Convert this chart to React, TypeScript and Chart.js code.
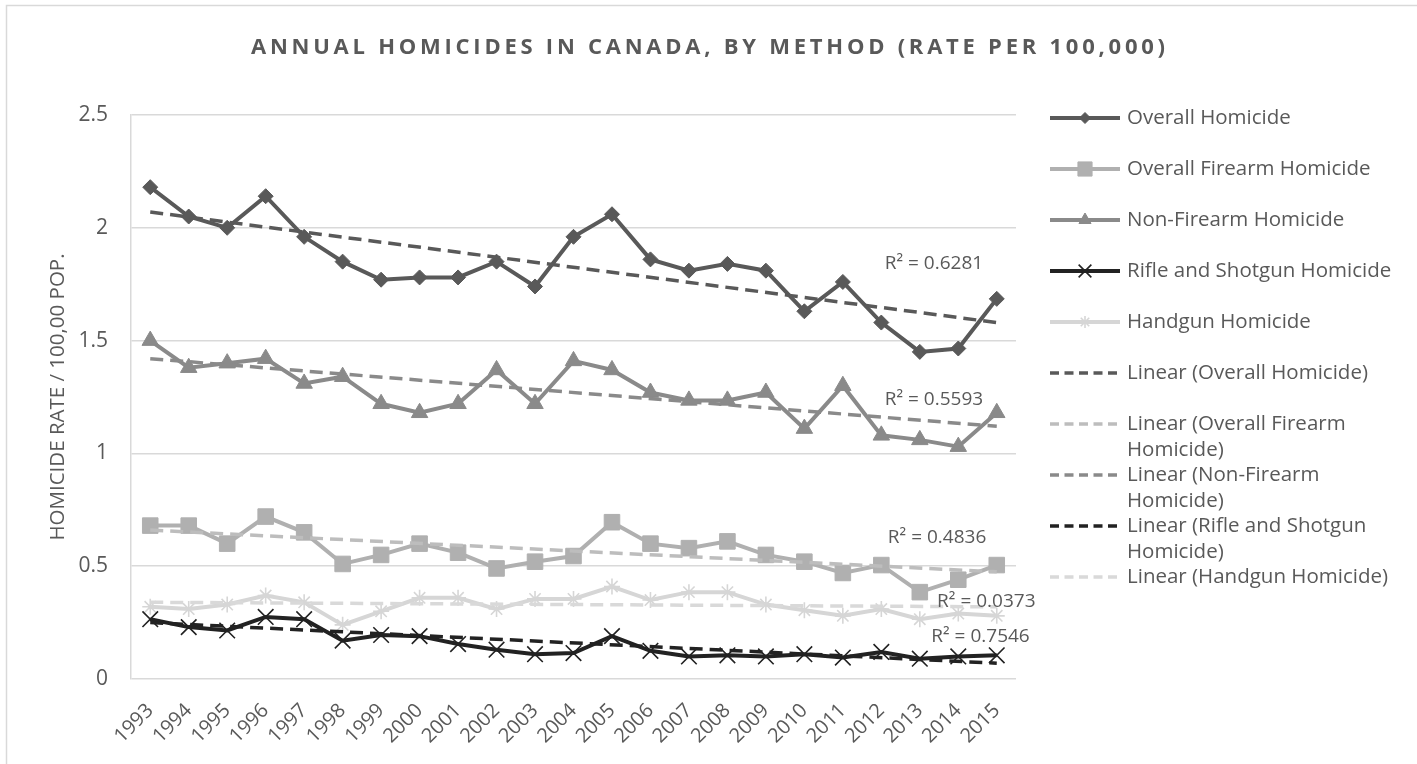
import React, { useEffect, useRef } from 'react';
import { Chart, registerables } from 'chart.js';
import { drawPoint } from 'chart.js/helpers';

Chart.register(...registerables);

const years = ['1993', '1994', '1995', '1996', '1997', '1998', '1999', '2000', '2001', '2002', '2003', '2004', '2005', '2006', '2007', '2008', '2009', '2010', '2011', '2012', '2013', '2014', '2015'];

const overallHomicide = [2.18, 2.05, 2.0, 2.14, 1.96, 1.85, 1.77, 1.78, 1.78, 1.85, 1.74, 1.96, 2.06, 1.86, 1.81, 1.84, 1.81, 1.63, 1.76, 1.58, 1.45, 1.465, 1.685];
const firearmHomicide = [0.68, 0.68, 0.6, 0.72, 0.65, 0.51, 0.55, 0.6, 0.56, 0.49, 0.52, 0.545, 0.695, 0.6, 0.58, 0.61, 0.55, 0.52, 0.47, 0.505, 0.385, 0.44, 0.505];
const nonFirearmHomicide = [1.5, 1.38, 1.4, 1.42, 1.31, 1.34, 1.22, 1.18, 1.22, 1.37, 1.22, 1.41, 1.37, 1.27, 1.235, 1.235, 1.27, 1.11, 1.3, 1.08, 1.06, 1.03, 1.18];
const rifleShotgunHomicide = [0.265, 0.23, 0.215, 0.275, 0.265, 0.17, 0.195, 0.19, 0.155, 0.13, 0.11, 0.115, 0.19, 0.125, 0.1, 0.105, 0.1, 0.11, 0.095, 0.12, 0.09, 0.1, 0.105];
const handgunHomicide = [0.32, 0.31, 0.33, 0.37, 0.34, 0.24, 0.3, 0.36, 0.36, 0.31, 0.355, 0.355, 0.41, 0.35, 0.385, 0.385, 0.33, 0.305, 0.28, 0.31, 0.265, 0.29, 0.28];

// Linear trendline endpoints (1993, 2015)
const trendStart = [2.07, 0.66, 1.42, 0.25, 0.34];
const trendEnd = [1.58, 0.475, 1.12, 0.07, 0.32];

const seriesNames = ['Overall Homicide', 'Overall Firearm Homicide', 'Non-Firearm Homicide', 'Rifle and Shotgun Homicide', 'Handgun Homicide'];
const rSquared = ['0.6281', '0.4836', '0.5593', '0.7546', '0.0373'];

const yTicks = [0, 0.5, 1, 1.5, 2, 2.5];

const TITLE = 'ANNUAL HOMICIDES IN CANADA, BY METHOD (RATE PER 100,000)';
const Y_TITLE = 'HOMICIDE RATE / 100,00 POP.';

const FONT = "'Open Sans', sans-serif";
const TEXT = '#595959';

const colors = ['#595959', '#b0b0b0', '#8a8a8a', '#222222', '#d6d6d6'];
const trendColors = ['#595959', '#bdbdbd', '#8a8a8a', '#222222', '#d9d9d9'];
const pointStyles = ['rectRot', 'rect', 'triangle', 'crossRot', 'star'];
const pointRadii = [7.5, 11, 9.5, 11, 8];
const legendRadii = [5.5, 10, 7, 9, 6];

// R² label anchors: [x category index, y value], in the order of rSquared
const r2Anchors = [
  [19.09, 1.84],
  [19.17, 0.628],
  [19.09, 1.239],
  [20.3, 0.186],
  [20.45, 0.341],
];

const seriesData = [overallHomicide, firearmHomicide, nonFirearmHomicide, rifleShotgunHomicide, handgunHomicide];

export default function App() {
  const ref = useRef<HTMLCanvasElement>(null);

  useEffect(() => {
    document.body.style.margin = '0';
    const canvas = ref.current;
    if (!canvas) return;

    const datasets: any[] = [];
    seriesData.forEach((d, i) => {
      const filled = pointStyles[i] !== 'crossRot' && pointStyles[i] !== 'star';
      datasets.push({
        label: seriesNames[i],
        data: d,
        borderColor: colors[i],
        backgroundColor: colors[i],
        borderWidth: 4,
        pointStyle: pointStyles[i],
        pointRadius: pointRadii[i],
        pointBorderWidth: filled ? 1 : 1.6,
        pointBorderColor: colors[i],
        pointBackgroundColor: colors[i],
        tension: 0,
        order: 2,
        _legendRadius: legendRadii[i],
      });
    });
    seriesData.forEach((d, i) => {
      const arr: (number | null)[] = d.map(() => null);
      arr[0] = trendStart[i];
      arr[arr.length - 1] = trendEnd[i];
      datasets.push({
        label: 'Linear (' + seriesNames[i] + ')',
        data: arr,
        spanGaps: true,
        borderColor: trendColors[i],
        backgroundColor: trendColors[i],
        borderWidth: 3.5,
        borderDash: [13, 7],
        pointRadius: 0,
        tension: 0,
        order: 1,
        _trend: true,
      });
    });

    const decor = {
      id: 'decor',
      afterDraw(chart: any) {
        const ctx = chart.ctx as CanvasRenderingContext2D;
        const xs = chart.scales.x;
        const ys = chart.scales.y;
        ctx.save();
        // outer border
        ctx.strokeStyle = '#d9d9d9';
        ctx.lineWidth = 1.5;
        ctx.strokeRect(6.5, 5.5, 1420, 770);

        // title
        ctx.fillStyle = TEXT;
        ctx.font = `bold 22px ${FONT}`;
        ctx.textBaseline = 'alphabetic';
        ctx.textAlign = 'left';
        (ctx as any).letterSpacing = '0px';
        const w0 = ctx.measureText(TITLE).width;
        const spacing = (914 - w0) / (TITLE.length - 1);
        (ctx as any).letterSpacing = spacing + 'px';
        ctx.fillText(TITLE, 708 - 914 / 2, 54);
        (ctx as any).letterSpacing = '0px';

        // y axis title
        ctx.save();
        ctx.translate(58, (chart.chartArea.top + chart.chartArea.bottom) / 2);
        ctx.rotate(-Math.PI / 2);
        ctx.font = `20.5px ${FONT}`;
        ctx.textAlign = 'center';
        ctx.textBaseline = 'middle';
        ctx.fillText(Y_TITLE, 0, 0);
        ctx.restore();

        // R² labels
        ctx.font = `19px ${FONT}`;
        ctx.textAlign = 'left';
        ctx.textBaseline = 'middle';
        ctx.fillStyle = TEXT;
        rSquared.forEach((r, i) => {
          const px = xs.getPixelForValue(r2Anchors[i][0]);
          const py = ys.getPixelForValue(r2Anchors[i][1]);
          ctx.fillText('R² = ' + r, px, py);
        });

        // legend
        const lx0 = 1050;
        const lx1 = 1120;
        const tx = 1127;
        const rowTop = 118;
        const rowStep = 51;
        const lineGap = 26;
        ctx.font = `20.5px ${FONT}`;
        chart.data.datasets.forEach((ds: any, i: number) => {
          const y = rowTop + rowStep * i;
          ctx.save();
          ctx.strokeStyle = ds.borderColor;
          ctx.lineWidth = ds._trend ? 3.5 : 4;
          ctx.setLineDash(ds._trend ? [9, 5.5] : []);
          ctx.beginPath();
          ctx.moveTo(lx0, y);
          ctx.lineTo(lx1, y);
          ctx.stroke();
          ctx.restore();
          if (!ds._trend) {
            ctx.save();
            ctx.fillStyle = ds.pointBackgroundColor;
            ctx.strokeStyle = ds.pointBorderColor;
            ctx.lineWidth = ds.pointBorderWidth;
            drawPoint(ctx, { pointStyle: ds.pointStyle, radius: ds._legendRadius, rotation: 0, borderWidth: ds.pointBorderWidth } as any, (lx0 + lx1) / 2, y);
            ctx.restore();
          }
          // word wrap
          const words = String(ds.label).split(' ');
          const lines: string[] = [];
          let cur = '';
          words.forEach((wd) => {
            const test = cur ? cur + ' ' + wd : wd;
            if (cur && ctx.measureText(test).width > 285) {
              lines.push(cur);
              cur = wd;
            } else cur = test;
          });
          if (cur) lines.push(cur);
          ctx.fillStyle = TEXT;
          ctx.textAlign = 'left';
          ctx.textBaseline = 'middle';
          lines.forEach((ln, k) => ctx.fillText(ln, tx, y + k * lineGap));
        });
        ctx.restore();
      },
    };

    const chart = new Chart(canvas, {
      type: 'line',
      data: { labels: years, datasets },
      options: {
        responsive: false,
        animation: false,
        devicePixelRatio: 1,
        layout: { padding: { left: 0, top: 115, right: 401, bottom: 0 } },
        plugins: {
          legend: { display: false },
          title: { display: false },
          tooltip: { enabled: false },
        },
        scales: {
          x: {
            type: 'category',
            offset: true,
            grid: { display: false, drawTicks: false },
            border: { display: false },
            ticks: {
              autoSkip: false,
              maxRotation: 45,
              minRotation: 45,
              color: TEXT,
              font: { family: FONT, size: 20 },
              padding: 20,
            },
            afterFit(scale: any) {
              scale.height = 85;
            },
          },
          y: {
            min: 0,
            max: 2.5,
            afterBuildTicks(scale: any) {
              scale.ticks = yTicks.map((v) => ({ value: v }));
            },
            grid: { color: '#d9d9d9', lineWidth: 1.5, drawTicks: false },
            border: { display: true, color: '#d9d9d9', width: 1.5 },
            ticks: {
              color: TEXT,
              font: { family: FONT, size: 21 },
              padding: 23,
              callback: (v: any) => String(v),
            },
            afterFit(scale: any) {
              scale.width = 131;
            },
          },
        },
      },
      plugins: [decor],
    });

    return () => chart.destroy();
  }, []);

  return <canvas ref={ref} width={1417} height={764} style={{ display: 'block', width: 1417, height: 764 }} />;
}
